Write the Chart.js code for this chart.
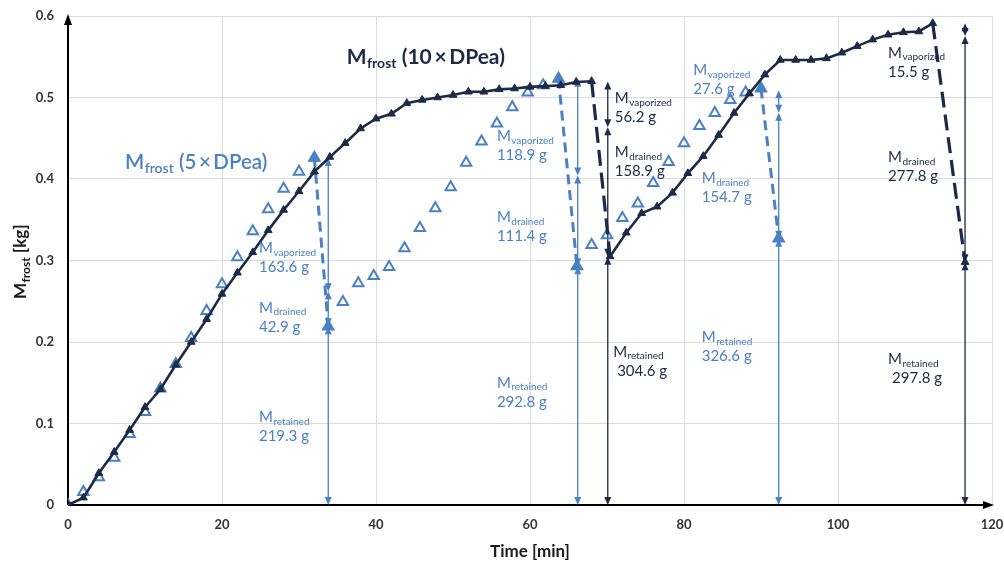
<!DOCTYPE html>
<html>
<head>
<meta charset="utf-8">
<title>Mfrost vs time</title>
<script src="https://cdn.jsdelivr.net/npm/chart.js@4.4.1/dist/chart.umd.min.js"></script>
<style>
  html, body { margin: 0; padding: 0; background: #fff; }
</style>
</head>
<body>
<canvas id="frost-chart" width="1004" height="563"></canvas>
<script>
// ---- data ----
// 10 x DPea (dark, filled triangles, line)
const darkTime = [0, 2, 4, 6, 8, 10, 12, 14, 16, 18, 20, 22, 24, 26, 28, 30, 32, 34, 36, 38, 40, 42, 44, 46, 48, 50,
  52, 54, 56, 58, 60, 62, 64, 66, 68, 70.4, 72.5, 74.5, 76.5, 78.5, 80.5, 82.5, 84.5, 86.5, 88.5, 90.5, 92.5, 94.5,
  96.5, 98.5, 100.5, 102.5, 104.5, 106.5, 108.5, 110.5, 112.3, 116.5];
const darkMass = [0, 0.009, 0.039, 0.065, 0.092, 0.12, 0.142, 0.172, 0.2, 0.228, 0.259, 0.285, 0.31, 0.337, 0.362,
  0.385, 0.409, 0.427, 0.444, 0.462, 0.474, 0.48, 0.493, 0.497, 0.5, 0.503, 0.507, 0.507, 0.51, 0.511, 0.513, 0.514,
  0.515, 0.519, 0.52, 0.305, 0.334, 0.358, 0.366, 0.383, 0.407, 0.428, 0.454, 0.481, 0.505, 0.528, 0.546, 0.546,
  0.546, 0.548, 0.555, 0.563, 0.571, 0.577, 0.58, 0.581, 0.591, 0.298];

// 5 x DPea (blue, open triangles)
const blueTime = [0, 2, 4, 6, 8, 10, 12, 14, 16, 18, 20, 22, 24, 26, 28, 30, 32, 33.8, 35.7, 37.7, 39.7, 41.7, 43.7,
  45.7, 47.7, 49.7, 51.7, 53.7, 55.7, 57.7, 59.7, 61.7, 63.7, 66.1, 68, 70, 72, 74, 76, 78, 80, 82, 84, 86, 88, 90, 92.3];
const blueMass = [0, 0.016, 0.034, 0.058, 0.087, 0.114, 0.143, 0.173, 0.205, 0.238, 0.271, 0.304, 0.336, 0.363,
  0.388, 0.409, 0.426, 0.219, 0.249, 0.272, 0.281, 0.292, 0.315, 0.34, 0.364, 0.39, 0.42, 0.446, 0.468, 0.488, 0.506,
  0.515, 0.523, 0.293, 0.319, 0.331, 0.352, 0.37, 0.395, 0.421, 0.444, 0.465, 0.481, 0.497, 0.506, 0.511, 0.327];

// mass split at each drain event [g]
const blueArrowTime = [33.8, 66.2, 92.3];
const blueRetained = [219.3, 292.8, 326.6];
const blueDrained = [42.9, 111.4, 154.7];
const blueVaporized = [163.6, 118.9, 27.6];
const darkArrowTime = [70.1, 116.5];
const darkRetained = [304.6, 297.8];
const darkDrained = [158.9, 277.8];
const darkVaporized = [56.2, 15.5];

const xTicks = [0, 20, 40, 60, 80, 100, 120];
const yTicks = [0, 0.1, 0.2, 0.3, 0.4, 0.5, 0.6];

// ---- label placement (data units) ----
const blueVapPos = [[24.8, 0.315], [55.7, 0.452], [81.2, 0.534]];
const blueDraPos = [[24.8, 0.242], [55.7, 0.353], [82.3, 0.401]];
const blueRetPos = [[24.8, 0.108], [55.7, 0.150], [82.3, 0.206]];
const darkVapPos = [[71.0, 0.499], [106.5, 0.555]];
const darkDraPos = [[71.0, 0.433], [106.5, 0.427]];
const darkRetPos = [[70.8, 0.188], [106.5, 0.179]];
const blueTitlePos = [7.4, 0.42];
const darkTitlePos = [36.2, 0.55];

const NAVY = '#1b2a47';
const BLUE = '#4a80c4';
const FONT = "Lato, 'Noto Sans', 'Noto Sans CJK SC', sans-serif";

const toPoints = (xs, ys) => xs.map((t, i) => ({ x: t, y: ys[i] }));

// dashed drop segments for the 5x series
function blueDropSets() {
  const sets = [];
  for (let i = 0; i < blueMass.length - 1; i++) {
    if (blueMass[i + 1] < blueMass[i] - 0.05) {
      sets.push({
        data: [{ x: blueTime[i], y: blueMass[i] }, { x: blueTime[i + 1], y: blueMass[i + 1] }],
        showLine: true,
        borderColor: BLUE,
        borderWidth: 3,
        borderDash: [10, 6],
        pointStyle: 'triangle',
        pointRadius: 6,
        pointBackgroundColor: BLUE,
        pointBorderColor: BLUE,
        pointBorderWidth: 1
      });
    }
  }
  return sets;
}

// M with subscript, then optional suffix
function drawSubText(ctx, x, y, sub, suffix, size, color, weight) {
  ctx.fillStyle = color;
  ctx.textBaseline = 'middle';
  ctx.textAlign = 'left';
  ctx.font = `${weight} ${size}px ${FONT}`;
  ctx.fillText('M', x, y);
  let cx = x + ctx.measureText('M').width + 0.5;
  ctx.font = `${weight} ${Math.round(size * 0.68)}px ${FONT}`;
  ctx.fillText(sub, cx, y + size * 0.3);
  cx += ctx.measureText(sub).width;
  if (suffix) {
    ctx.font = `${weight} ${size}px ${FONT}`;
    ctx.fillText(suffix, cx, y);
  }
}

function arrowHead(ctx, x, y, dir) {
  // dir = 1 points down, -1 points up; tip at (x, y)
  ctx.beginPath();
  ctx.moveTo(x, y);
  ctx.lineTo(x - 3.5, y - dir * 8);
  ctx.lineTo(x + 3.5, y - dir * 8);
  ctx.closePath();
  ctx.fill();
}

function splitArrows(ctx, xs, ys, times, ret, dra, vap, color) {
  ctx.strokeStyle = color;
  ctx.fillStyle = color;
  ctx.lineWidth = 1.3;
  times.forEach((t, i) => {
    const px = xs.getPixelForValue(t);
    const levels = [0, ret[i], ret[i] + dra[i], ret[i] + dra[i] + vap[i]].map(g => ys.getPixelForValue(g / 1000));
    for (let k = 0; k < 3; k++) {
      const b = levels[k], top = levels[k + 1];
      ctx.beginPath();
      ctx.moveTo(px, b - 4);
      ctx.lineTo(px, top + 4);
      ctx.stroke();
      arrowHead(ctx, px, b, 1);
      arrowHead(ctx, px, top, -1);
    }
  });
}

const annotationPlugin = {
  id: 'frostAnnotations',
  beforeDatasetsDraw(chart) {
    const { ctx, chartArea: a, scales: { x, y } } = chart;
    ctx.save();
    // axis lines with arrow heads
    ctx.strokeStyle = '#000';
    ctx.fillStyle = '#000';
    ctx.lineWidth = 2;
    ctx.beginPath();
    ctx.moveTo(a.left, a.bottom);
    ctx.lineTo(a.left, a.top + 4);
    ctx.moveTo(a.left, a.bottom);
    ctx.lineTo(a.right - 2, a.bottom);
    ctx.stroke();
    ctx.beginPath();
    ctx.moveTo(a.left, a.top - 2);
    ctx.lineTo(a.left - 4, a.top + 9);
    ctx.lineTo(a.left + 4, a.top + 9);
    ctx.closePath();
    ctx.fill();
    ctx.beginPath();
    ctx.moveTo(a.right + 2, a.bottom);
    ctx.lineTo(a.right - 9, a.bottom - 4);
    ctx.lineTo(a.right - 9, a.bottom + 4);
    ctx.closePath();
    ctx.fill();

    splitArrows(ctx, x, y, blueArrowTime, blueRetained, blueDrained, blueVaporized, BLUE);
    splitArrows(ctx, x, y, darkArrowTime, darkRetained, darkDrained, darkVaporized, NAVY);
    ctx.restore();
  },
  afterDatasetsDraw(chart) {
    const { ctx, scales: { x, y } } = chart;
    ctx.save();
    const put = (pos, sub, grams, color, indent) => {
      const px = x.getPixelForValue(pos[0]);
      const py = y.getPixelForValue(pos[1]);
      drawSubText(ctx, px, py, sub, '', 15, color, 'normal');
      ctx.font = `normal 15px ${FONT}`;
      ctx.fillText(grams.toFixed(1) + ' g', px + (indent || 0), py + 19);
    };
    blueVapPos.forEach((p, i) => put(p, 'vaporized', blueVaporized[i], BLUE));
    blueDraPos.forEach((p, i) => put(p, 'drained', blueDrained[i], BLUE));
    blueRetPos.forEach((p, i) => put(p, 'retained', blueRetained[i], BLUE));
    darkVapPos.forEach((p, i) => put(p, 'vaporized', darkVaporized[i], NAVY));
    darkDraPos.forEach((p, i) => put(p, 'drained', darkDrained[i], NAVY));
    darkRetPos.forEach((p, i) => put(p, 'retained', darkRetained[i], NAVY, 4));

    drawSubText(ctx, x.getPixelForValue(blueTitlePos[0]), y.getPixelForValue(blueTitlePos[1]),
      'frost', ' (5\u2009×\u2009DPea)', 20.5, BLUE, '600');
    drawSubText(ctx, x.getPixelForValue(darkTitlePos[0]), y.getPixelForValue(darkTitlePos[1]),
      'frost', ' (10\u2009×\u2009DPea)', 21, NAVY, 'bold');

    // y axis title with subscript
    ctx.translate(21, 262);
    ctx.rotate(-Math.PI / 2);
    ctx.font = `bold 17px ${FONT}`;
    const w1 = ctx.measureText('M').width;
    const w3 = ctx.measureText(' [kg]').width;
    ctx.font = `bold 12px ${FONT}`;
    const w2 = ctx.measureText('frost').width;
    drawSubText(ctx, -(w1 + w2 + w3) / 2, 0, 'frost', ' [kg]', 17, '#1a1a1a', 'bold');
    ctx.restore();
  }
};

const tickFont = { family: FONT, size: 13, weight: 'bold' };

new Chart(document.getElementById('frost-chart').getContext('2d'), {
  type: 'scatter',
  data: {
    datasets: [
      {
        label: 'Mfrost (10×DPea)',
        data: toPoints(darkTime, darkMass),
        showLine: true,
        borderColor: NAVY,
        borderWidth: 2.6,
        pointStyle: 'triangle',
        pointRadius: 4.5,
        pointBackgroundColor: NAVY,
        pointBorderColor: NAVY,
        pointBorderWidth: 1,
        segment: {
          borderDash: c => (c.p1.parsed.y < c.p0.parsed.y - 0.05 ? [16, 7] : undefined),
          borderWidth: c => (c.p1.parsed.y < c.p0.parsed.y - 0.05 ? 3.2 : 2.6)
        }
      },
      ...blueDropSets(),
      {
        label: 'Mfrost (5×DPea)',
        data: toPoints(blueTime, blueMass),
        showLine: false,
        pointStyle: 'triangle',
        pointRadius: 6,
        pointBackgroundColor: 'rgba(255,255,255,0)',
        pointBorderColor: BLUE,
        pointBorderWidth: 2
      }
    ]
  },
  options: {
    responsive: false,
    animation: false,
    devicePixelRatio: 1,
    layout: { padding: { top: 16, right: 12, left: 0, bottom: 0 } },
    plugins: { legend: { display: false }, tooltip: { enabled: false } },
    scales: {
      x: {
        type: 'linear',
        min: 0,
        max: 120,
        afterBuildTicks: s => { s.ticks = xTicks.map(v => ({ value: v })); },
        ticks: { font: tickFont, color: '#333', padding: 12, maxRotation: 0 },
        grid: { color: '#dcdcdc', lineWidth: 1, drawTicks: false },
        border: { display: false },
        title: {
          display: true,
          text: 'Time [min]',
          color: '#1a1a1a',
          font: { family: FONT, size: 17, weight: 'bold' },
          padding: { top: 0, bottom: 1 }
        },
        afterFit: s => { s.height = 58; s.paddingLeft = 0; s.paddingRight = 0; }
      },
      y: {
        type: 'linear',
        min: 0,
        max: 0.6,
        afterBuildTicks: s => { s.ticks = yTicks.map(v => ({ value: v })); },
        ticks: { font: tickFont, color: '#333', padding: 14, callback: v => String(v) },
        grid: { color: '#dcdcdc', lineWidth: 1, drawTicks: false },
        border: { display: false },
        afterFit: s => { s.width = 68; s.paddingTop = 0; s.paddingBottom = 0; }
      }
    }
  },
  plugins: [annotationPlugin]
});
</script>
</body>
</html>
